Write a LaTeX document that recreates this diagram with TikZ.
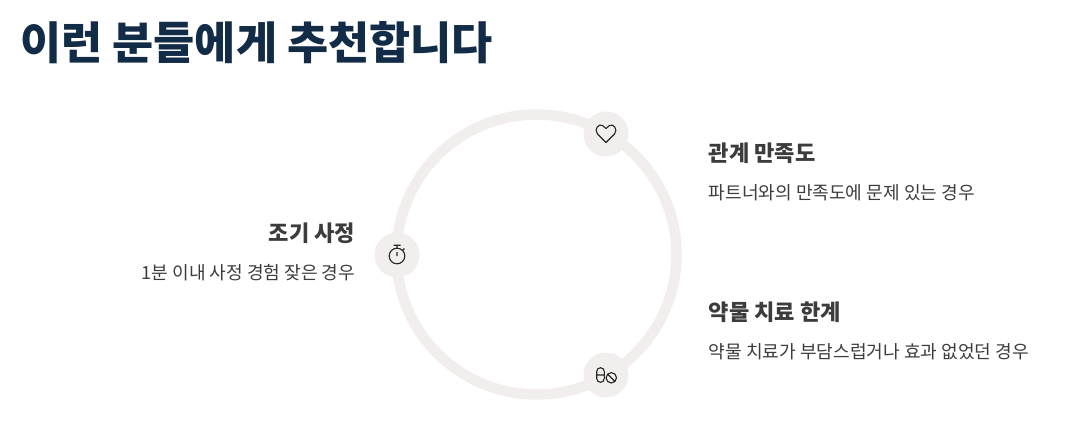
\documentclass[tikz,border=0pt]{standalone}
\usepackage{fontspec}
\setmainfont{Noto Sans CJK KR}
\usepackage{tikz}
\definecolor{navy}{HTML}{122B46}
\definecolor{ringgray}{HTML}{F1EEED}
\definecolor{inkgray}{HTML}{3C3C3C}
\tikzset{
  badge/.style={circle,fill=ringgray,minimum width=45pt,inner sep=0pt},
  heading/.style={font=\fontsize{22.1}{26}\selectfont\bfseries,text=inkgray,inner sep=0pt},
  caption/.style={font=\fontsize{18.1}{22}\selectfont,text=inkgray,inner sep=0pt},
  icon/.style={line width=1.1pt,black!85}
}
\begin{document}
\begin{tikzpicture}[x=1pt,y=-1pt]
\useasboundingbox (0,0) rectangle (1080,428);
\node[anchor=west,inner sep=0pt,text=navy,font=\fontsize{44.7}{52}\selectfont\bfseries] (title) at (20,43) {이런 분들에게 추천합니다};

\draw[ringgray,line width=10.5pt] (536.5,254.5) circle (140);
\node[badge] (heart) at (606,134) {};
\node[badge] (watch) at (397,255) {};
\node[badge] (pill) at (606,375) {};

% icons
\draw[icon,line join=round,shift={(heart.center)}] (0,8.5) -- (-8.5,0) .. controls (-12.5,-4.5) and (-7,-11) .. (-3.5,-8.5) .. controls (-2,-7.5) and (-1,-6.5) .. (0,-5.5) .. controls (1,-6.5) and (2,-7.5) .. (3.5,-8.5) .. controls (7,-11) and (12.5,-4.5) .. (8.5,0) -- cycle;
\draw[icon,shift={(watch.center)}] (0,1) circle (7.8) (-3.5,-9.8) -- (3.5,-9.8) (0,-9.8) -- (0,-6.8) (0,-3) -- (0,1) (5.6,-4.6) -- (7.4,-6.4);
\draw[icon,shift={(pill.center)}] (-9.3,-3.5) arc (180:360:3.8) -- (-1.7,3.5) arc (0:180:3.8) -- cycle (-9.3,0) -- (-1.7,0) (5.3,2.8) circle (5.2) (1.7,-0.8) -- (8.9,6.4);

% labels
\node[heading,anchor=west] (partner) at (708.5,153) {관계 만족도};
\node[caption,anchor=west] (partnertxt) at (708.5,193) {파트너와의 만족도에 문제 있는 경우};
\node[heading,anchor=east] (early) at (355.5,233) {조기 사정};
\node[caption,anchor=east] (earlytxt) at (355.5,273) {1분 이내 사정 경험 잦은 경우};
\node[heading,anchor=west] (drug) at (708.5,312) {약물 치료 한계};
\node[caption,anchor=west] (drugtxt) at (708.5,352) {약물 치료가 부담스럽거나 효과 없었던 경우};
\end{tikzpicture}
\end{document}
